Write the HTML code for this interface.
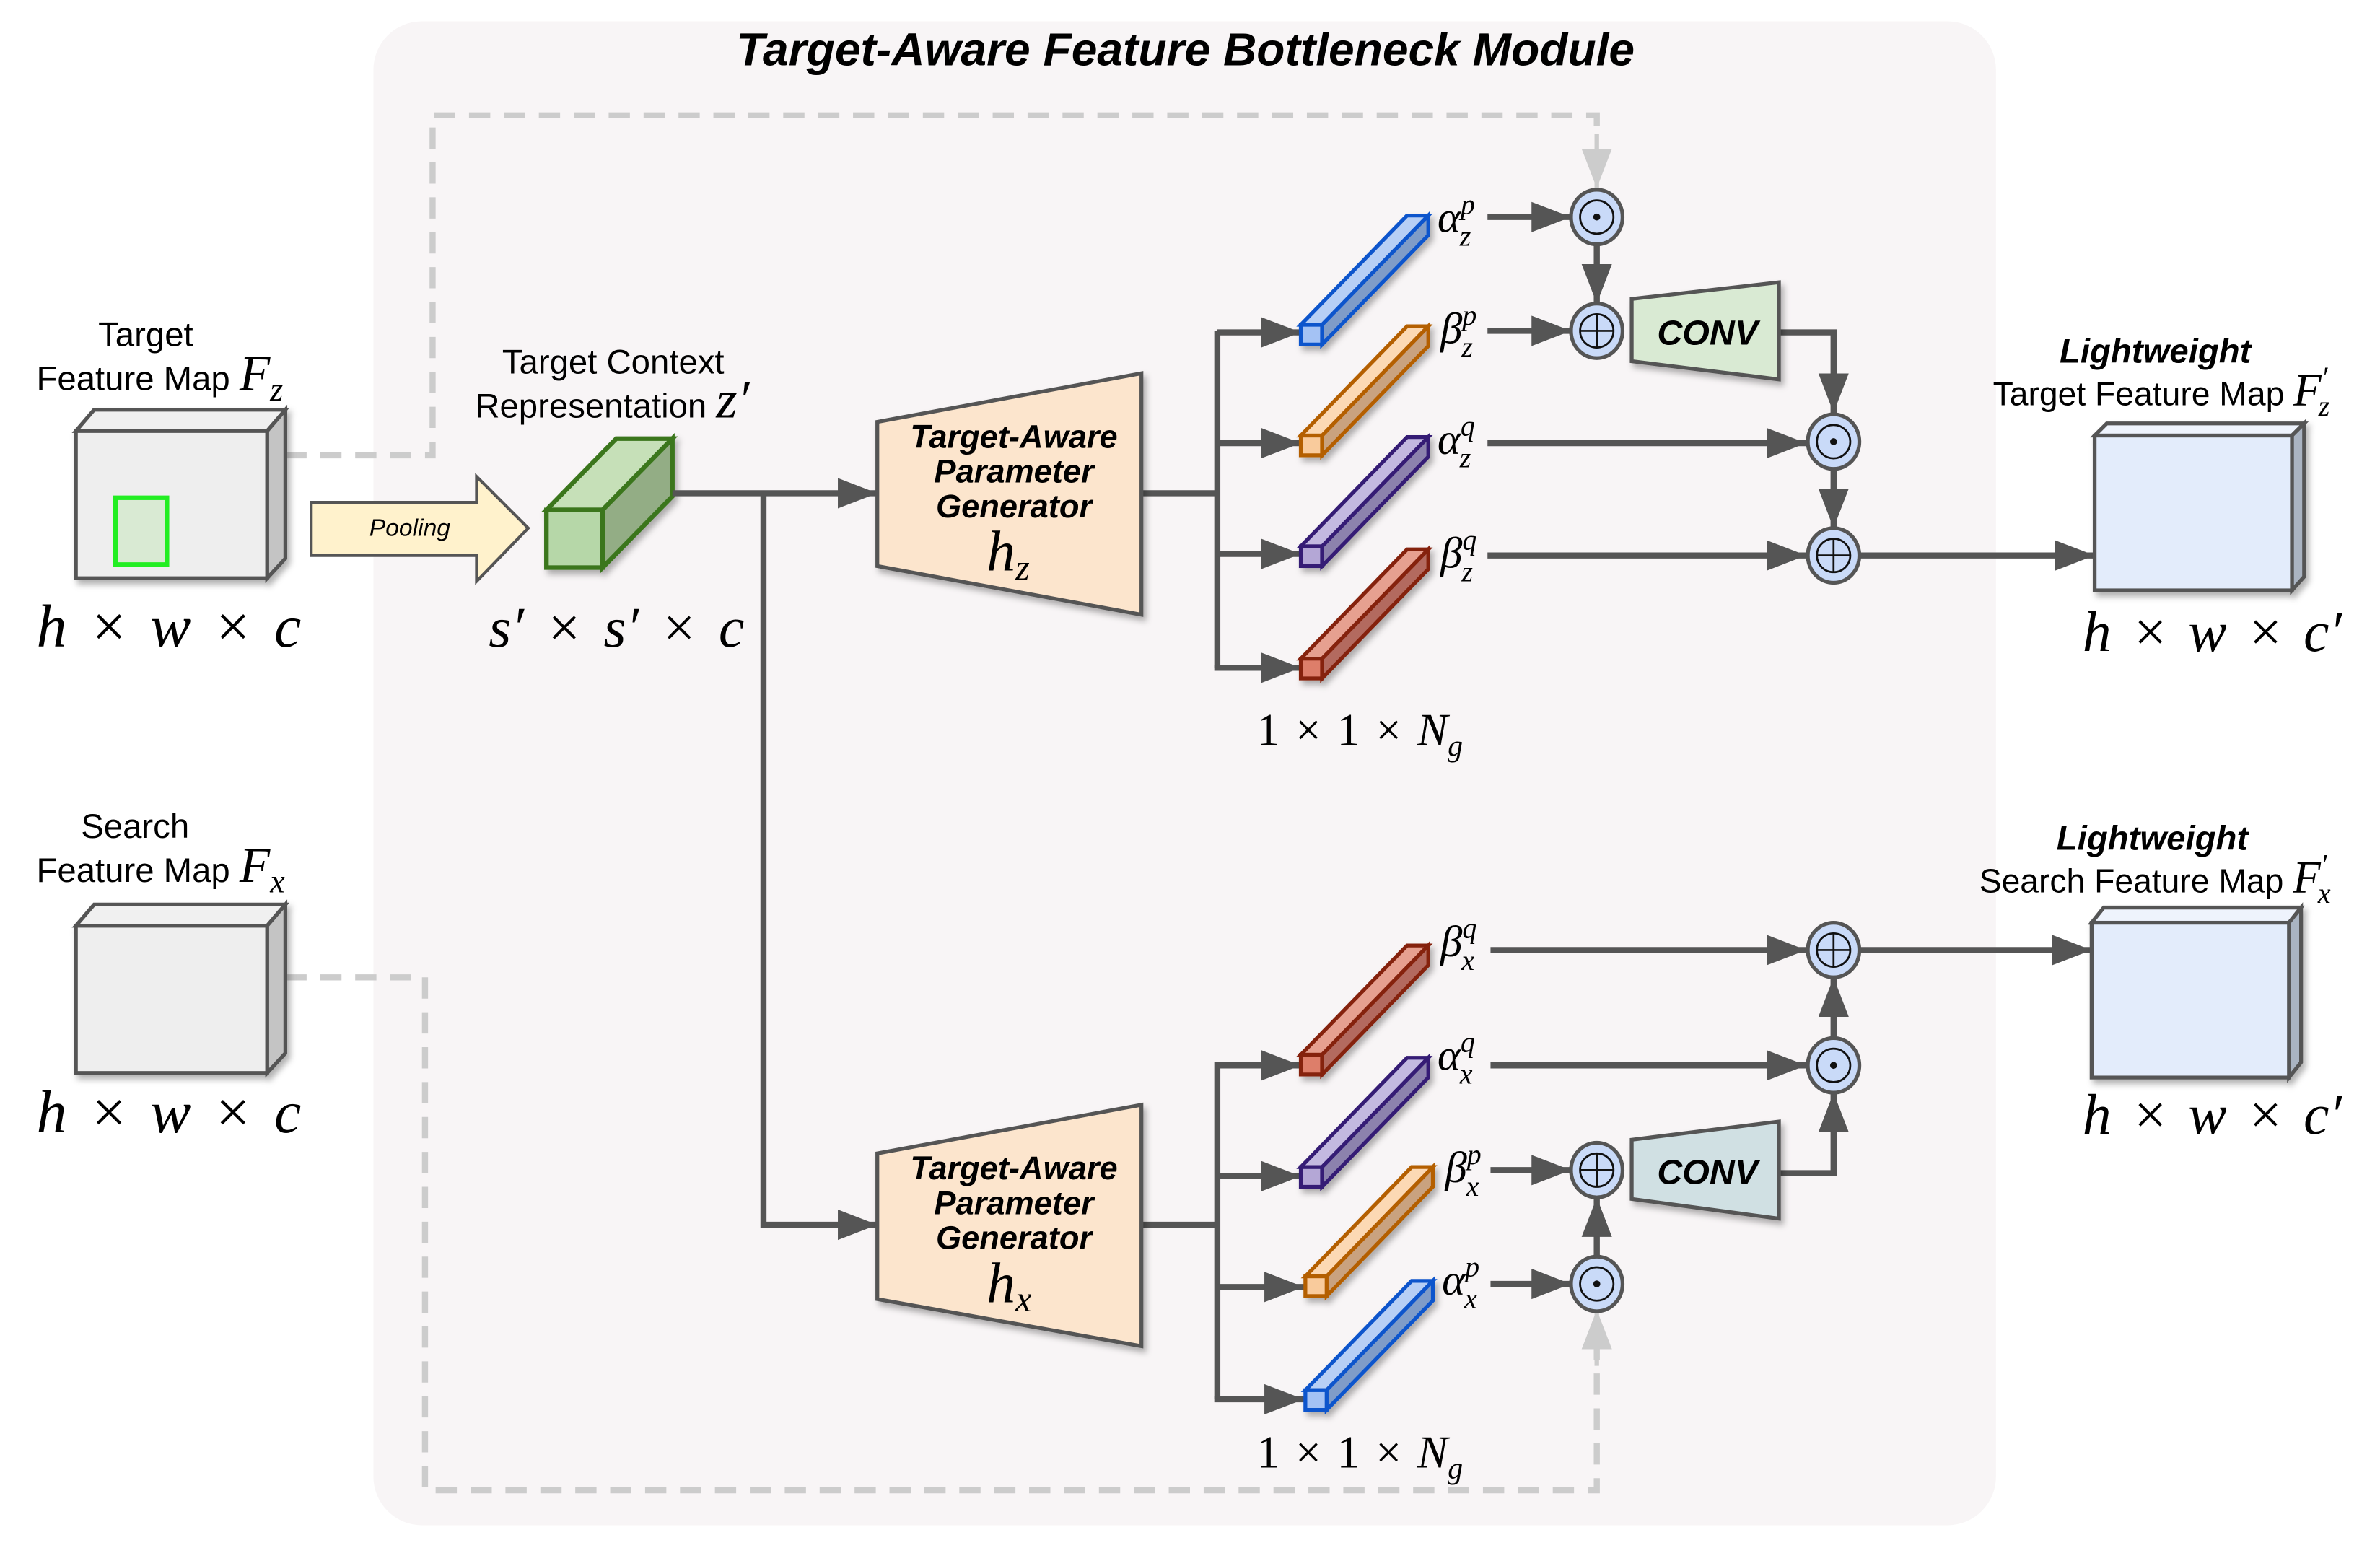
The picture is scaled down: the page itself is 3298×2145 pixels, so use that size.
<!DOCTYPE html>
<html><head><meta charset="utf-8"><style>
html,body{margin:0;padding:0;background:#fff;}
svg{display:block;}
.s{font-family:"Liberation Sans",sans-serif;}
.m{font-family:"Liberation Serif",serif;font-style:italic;}
.r{font-family:"Liberation Serif",serif;}
</style></head><body>
<svg width="3298" height="2145" viewBox="0 0 1568 1020" preserveAspectRatio="none" xmlns="http://www.w3.org/2000/svg">
<defs>
<marker id="a" markerUnits="userSpaceOnUse" markerWidth="28" markerHeight="22" refX="26" refY="10" orient="auto"><path d="M0,0 L26,10 L0,20 z" fill="#555"/></marker>
<marker id="g" markerUnits="userSpaceOnUse" markerWidth="28" markerHeight="22" refX="26" refY="10" orient="auto"><path d="M0,0 L26,10 L0,20 z" fill="#ccc"/></marker>
<filter id="sh" x="-20%" y="-20%" width="150%" height="150%"><feDropShadow dx="2" dy="3" stdDeviation="2" flood-color="#000" flood-opacity="0.3"/></filter>
</defs>
<rect width="1568" height="1020" fill="#fff"/>
<rect x="246" y="14" width="1069" height="991" rx="32" fill="#f8f5f6"/>
<text x="781" y="43" text-anchor="middle" class="s" font-size="30.5" font-weight="bold" font-style="italic">Target-Aware Feature Bottleneck Module</text>

<!-- dashed -->
<g fill="none" stroke="#ccc" stroke-width="4" stroke-dasharray="14,9">
<path d="M188,300 H285 V76 H1052 V88"/>
<path d="M188,644 H280 V982 H1052 V888"/>
</g>
<line x1="1052" y1="88" x2="1052" y2="124" stroke="#ccc" stroke-width="3" marker-end="url(#g)"/>
<line x1="1052" y1="900" x2="1052" y2="863" stroke="#ccc" stroke-width="3" marker-end="url(#g)"/>

<!-- target cube -->
<g stroke="#555" stroke-width="2.5" filter="url(#sh)">
<polygon points="50,284 62,270 188,270 176,284" fill="#f0f0f0"/>
<polygon points="176,284 188,270 188,368 176,381" fill="#c4c4c4"/>
<rect x="50" y="284" width="126" height="97" fill="#eee"/>
</g>
<rect x="76" y="328" width="34" height="44" fill="#d9ead3" stroke="#22ee22" stroke-width="3"/>
<text x="96" y="228" text-anchor="middle" class="s" font-size="22.5">Target</text>
<text x="24" y="257" class="s" font-size="22.5">Feature Map <tspan class="m" font-size="33">F</tspan><tspan class="m" font-size="22" dy="7">z</tspan></text>
<text x="24" y="426" class="m" font-size="40" word-spacing="4">h <tspan class="r">×</tspan> w <tspan class="r">×</tspan> c</text>

<!-- search cube -->
<g stroke="#555" stroke-width="2.5" filter="url(#sh)">
<polygon points="50,610 62,596 188,596 176,610" fill="#f0f0f0"/>
<polygon points="176,610 188,596 188,694 176,707" fill="#c4c4c4"/>
<rect x="50" y="610" width="126" height="97" fill="#eee"/>
</g>
<text x="89" y="552" text-anchor="middle" class="s" font-size="22.5">Search</text>
<text x="24" y="581" class="s" font-size="22.5">Feature Map <tspan class="m" font-size="33">F</tspan><tspan class="m" font-size="22" dy="7">x</tspan></text>
<text x="24" y="746" class="m" font-size="40" word-spacing="4">h <tspan class="r">×</tspan> w <tspan class="r">×</tspan> c</text>

<!-- pooling arrow -->
<polygon points="205,331 314,331 314,314 348,348 314,383 314,366 205,366" fill="#fff2cc" stroke="#555" stroke-width="2"/>
<text x="270" y="353" text-anchor="middle" class="s" font-size="16" font-style="italic">Pooling</text>

<!-- green cube -->
<g stroke="#3a761d" stroke-width="3" filter="url(#sh)">
<polygon points="360,336 406,289 443,289 397,336" fill="#c6e0b8"/>
<polygon points="397,336 443,289 443,327 397,374" fill="#93ad85"/>
<rect x="360" y="336" width="37" height="38" fill="#b6d7a8"/>
</g>
<text x="404" y="246" text-anchor="middle" class="s" font-size="22.5">Target Context</text>
<text x="313" y="275" class="s" font-size="22.5">Representation <tspan class="m" font-size="36">z′</tspan></text>
<text x="322" y="426" class="m" font-size="38" word-spacing="4">s′ <tspan class="r">×</tspan> s′ <tspan class="r">×</tspan> c</text>

<!-- main lines -->
<g stroke="#555" stroke-width="4" fill="none">
<line x1="443" y1="325" x2="578" y2="325" marker-end="url(#a)"/>
<path d="M503,325 V807 H578" marker-end="url(#a)"/>
<line x1="752" y1="325" x2="802" y2="325"/>
<line x1="802" y1="218" x2="802" y2="440"/>
<line x1="802" y1="219" x2="857" y2="219" marker-end="url(#a)"/>
<line x1="802" y1="292" x2="857" y2="292" marker-end="url(#a)"/>
<line x1="802" y1="365" x2="857" y2="365" marker-end="url(#a)"/>
<line x1="800" y1="440" x2="857" y2="440" marker-end="url(#a)"/>
<line x1="752" y1="807" x2="802" y2="807"/>
<line x1="802" y1="700" x2="802" y2="922"/>
<line x1="802" y1="702" x2="857" y2="702" marker-end="url(#a)"/>
<line x1="802" y1="775" x2="857" y2="775" marker-end="url(#a)"/>
<line x1="802" y1="848" x2="859" y2="848" marker-end="url(#a)"/>
<line x1="800" y1="922" x2="859" y2="922" marker-end="url(#a)"/>
</g>

<!-- generators -->
<g stroke="#555" stroke-width="2.5" fill="#fce5cd" filter="url(#sh)">
<polygon points="578,278 752,246 752,405 578,373"/>
<polygon points="578,760 752,728 752,887 578,856"/>
</g>
<g class="s" font-size="21.5" font-weight="bold" font-style="italic" text-anchor="middle">
<text x="668" y="295">Target-Aware</text><text x="668" y="318">Parameter</text><text x="668" y="341">Generator</text>
<text x="668" y="777">Target-Aware</text><text x="668" y="800">Parameter</text><text x="668" y="823">Generator</text>
</g>
<text x="650" y="376" class="m" font-size="38">h<tspan font-size="24" dy="6">z</tspan></text>
<text x="650" y="858" class="m" font-size="38">h<tspan font-size="24" dy="6">x</tspan></text>

<!-- bars -->
<g stroke-width="2.5" filter="url(#sh)">
<g stroke="#1155cc"><polygon points="857,214 927,142 941,142 871,214" fill="#b7cff5"/><polygon points="871,214 941,142 941,155 871,227" fill="#7f9cc8"/><rect x="857" y="214" width="14" height="13" fill="#a4c2f4"/></g>
<g stroke="#b45f06"><polygon points="857,287 927,215 941,215 871,287" fill="#fcd9b4"/><polygon points="871,287 941,215 941,228 871,300" fill="#c9a27f"/><rect x="857" y="287" width="14" height="13" fill="#f9cb9c"/></g>
<g stroke="#351c75"><polygon points="857,360 927,288 941,288 871,360" fill="#c3b9e0"/><polygon points="871,360 941,288 941,301 871,373" fill="#8c82ad"/><rect x="857" y="360" width="14" height="13" fill="#b4a7d6"/></g>
<g stroke="#85200c"><polygon points="857,434 927,362 941,362 871,434" fill="#e6a090"/><polygon points="871,434 941,362 941,375 871,447" fill="#b36a5e"/><rect x="857" y="434" width="14" height="13" fill="#dd7e6b"/></g>

<g stroke="#85200c"><polygon points="857,695 927,623 941,623 871,695" fill="#e6a090"/><polygon points="871,695 941,623 941,636 871,708" fill="#b36a5e"/><rect x="857" y="695" width="14" height="13" fill="#dd7e6b"/></g>
<g stroke="#351c75"><polygon points="857,769 927,697 941,697 871,769" fill="#c3b9e0"/><polygon points="871,769 941,697 941,710 871,782" fill="#8c82ad"/><rect x="857" y="769" width="14" height="13" fill="#b4a7d6"/></g>
<g stroke="#b45f06"><polygon points="860,841 930,769 944,769 874,841" fill="#fcd9b4"/><polygon points="874,841 944,769 944,782 874,854" fill="#c9a27f"/><rect x="860" y="841" width="14" height="13" fill="#f9cb9c"/></g>
<g stroke="#1155cc"><polygon points="860,916 930,844 944,844 874,916" fill="#b7cff5"/><polygon points="874,916 944,844 944,857 874,929" fill="#7f9cc8"/><rect x="860" y="916" width="14" height="13" fill="#a4c2f4"/></g>
</g>

<!-- greek labels -->
<g class="m" font-size="29">
<text x="947" y="153">α<tspan font-size="19" dy="-12">p</tspan><tspan font-size="19" dx="-10" dy="21">z</tspan></text>
<text x="949" y="226">β<tspan font-size="19" dy="-12">p</tspan><tspan font-size="19" dx="-10" dy="21">z</tspan></text>
<text x="947" y="299">α<tspan font-size="19" dy="-12">q</tspan><tspan font-size="19" dx="-10" dy="21">z</tspan></text>
<text x="949" y="374">β<tspan font-size="19" dy="-12">q</tspan><tspan font-size="19" dx="-10" dy="21">z</tspan></text>
<text x="949" y="630">β<tspan font-size="19" dy="-12">q</tspan><tspan font-size="19" dx="-10" dy="21">x</tspan></text>
<text x="947" y="705">α<tspan font-size="19" dy="-12">q</tspan><tspan font-size="19" dx="-10" dy="21">x</tspan></text>
<text x="952" y="779">β<tspan font-size="19" dy="-12">p</tspan><tspan font-size="19" dx="-10" dy="21">x</tspan></text>
<text x="950" y="853">α<tspan font-size="19" dy="-12">p</tspan><tspan font-size="19" dx="-10" dy="21">x</tspan></text>
</g>
<text x="828" y="491" class="r" font-size="30" word-spacing="3">1 × 1 × <tspan class="m">N</tspan><tspan class="m" font-size="20" dy="7">g</tspan></text>
<text x="828" y="967" class="r" font-size="30" word-spacing="3">1 × 1 × <tspan class="m">N</tspan><tspan class="m" font-size="20" dy="7">g</tspan></text>

<!-- arrows in fusion -->
<g stroke="#555" stroke-width="4" fill="none">
<line x1="980" y1="143" x2="1035" y2="143" marker-end="url(#a)"/>
<line x1="980" y1="218" x2="1035" y2="218" marker-end="url(#a)"/>
<line x1="1052" y1="161" x2="1052" y2="200" marker-end="url(#a)"/>
<path d="M1172,219 H1208 V272" marker-end="url(#a)"/>
<line x1="980" y1="292" x2="1190" y2="292" marker-end="url(#a)"/>
<line x1="1208" y1="309" x2="1208" y2="348" marker-end="url(#a)"/>
<line x1="980" y1="366" x2="1190" y2="366" marker-end="url(#a)"/>
<line x1="1226" y1="366" x2="1380" y2="366" marker-end="url(#a)"/>

<line x1="982" y1="626" x2="1190" y2="626" marker-end="url(#a)"/>
<line x1="1226" y1="626" x2="1378" y2="626" marker-end="url(#a)"/>
<line x1="982" y1="702" x2="1190" y2="702" marker-end="url(#a)"/>
<line x1="1208" y1="684" x2="1208" y2="644" marker-end="url(#a)"/>
<path d="M1172,773 H1208 V720" marker-end="url(#a)"/>
<line x1="982" y1="771" x2="1035" y2="771" marker-end="url(#a)"/>
<line x1="982" y1="846" x2="1035" y2="846" marker-end="url(#a)"/>
<line x1="1052" y1="828" x2="1052" y2="789" marker-end="url(#a)"/>
</g>

<!-- CONV -->
<g stroke="#555" stroke-width="2.5" filter="url(#sh)">
<polygon points="1075,197 1172,186 1172,250 1075,238" fill="#d9ead3"/>
<polygon points="1075,751 1172,739 1172,803 1075,790" fill="#d0e0e3"/>
</g>
<text x="1125" y="227" text-anchor="middle" class="s" font-size="23" font-weight="bold" font-style="italic">CONV</text>
<text x="1125" y="780" text-anchor="middle" class="s" font-size="23" font-weight="bold" font-style="italic">CONV</text>

<!-- operators -->
<ellipse cx="1052" cy="143" rx="17" ry="18" fill="#c9daf8" stroke="#555" stroke-width="2.5"/><circle cx="1052" cy="143" r="11" fill="none" stroke="#111" stroke-width="1.3"/><circle cx="1052" cy="143" r="2.3" fill="#111"/>
<ellipse cx="1052" cy="218" rx="17" ry="18" fill="#c9daf8" stroke="#555" stroke-width="2.5"/><circle cx="1052" cy="218" r="11" fill="none" stroke="#111" stroke-width="1.3"/><path d="M1041,218 H1063 M1052,207 V229" stroke="#111" stroke-width="1.3"/>
<ellipse cx="1208" cy="291" rx="17" ry="18" fill="#c9daf8" stroke="#555" stroke-width="2.5"/><circle cx="1208" cy="291" r="11" fill="none" stroke="#111" stroke-width="1.3"/><circle cx="1208" cy="291" r="2.3" fill="#111"/>
<ellipse cx="1208" cy="366" rx="17" ry="18" fill="#c9daf8" stroke="#555" stroke-width="2.5"/><circle cx="1208" cy="366" r="11" fill="none" stroke="#111" stroke-width="1.3"/><path d="M1197,366 H1219 M1208,355 V377" stroke="#111" stroke-width="1.3"/>

<ellipse cx="1208" cy="626" rx="17" ry="18" fill="#c9daf8" stroke="#555" stroke-width="2.5"/><circle cx="1208" cy="626" r="11" fill="none" stroke="#111" stroke-width="1.3"/><path d="M1197,626 H1219 M1208,615 V637" stroke="#111" stroke-width="1.3"/>
<ellipse cx="1208" cy="702" rx="17" ry="18" fill="#c9daf8" stroke="#555" stroke-width="2.5"/><circle cx="1208" cy="702" r="11" fill="none" stroke="#111" stroke-width="1.3"/><circle cx="1208" cy="702" r="2.3" fill="#111"/>
<ellipse cx="1052" cy="771" rx="17" ry="18" fill="#c9daf8" stroke="#555" stroke-width="2.5"/><circle cx="1052" cy="771" r="11" fill="none" stroke="#111" stroke-width="1.3"/><path d="M1041,771 H1063 M1052,760 V782" stroke="#111" stroke-width="1.3"/>
<ellipse cx="1052" cy="846" rx="17" ry="18" fill="#c9daf8" stroke="#555" stroke-width="2.5"/><circle cx="1052" cy="846" r="11" fill="none" stroke="#111" stroke-width="1.3"/><circle cx="1052" cy="846" r="2.3" fill="#111"/>

<!-- output cubes -->
<g stroke="#555" stroke-width="2.5" filter="url(#sh)">
<polygon points="1380,287 1388,279 1518,279 1510,287" fill="#eef3fc"/>
<polygon points="1510,287 1518,279 1518,380 1510,389" fill="#aab4c2"/>
<rect x="1380" y="287" width="130" height="102" fill="#e3ecfb"/>
<polygon points="1378,608 1386,598 1516,598 1508,608" fill="#eef3fc"/>
<polygon points="1508,608 1516,598 1516,700 1508,710" fill="#aab4c2"/>
<rect x="1378" y="608" width="130" height="102" fill="#e3ecfb"/>
</g>
<text x="1420" y="239" text-anchor="middle" class="s" font-size="22.5" font-weight="bold" font-style="italic">Lightweight</text>
<text x="1313" y="267" class="s" font-size="22">Target Feature Map <tspan class="m" font-size="30">F</tspan><tspan class="m" font-size="19" dy="-12">′</tspan><tspan class="m" font-size="19" dx="-6" dy="19">z</tspan></text>
<text x="1372" y="429" class="m" font-size="38" word-spacing="3">h <tspan class="r">×</tspan> w <tspan class="r">×</tspan> c′</text>
<text x="1418" y="560" text-anchor="middle" class="s" font-size="22.5" font-weight="bold" font-style="italic">Lightweight</text>
<text x="1304" y="588" class="s" font-size="22">Search Feature Map <tspan class="m" font-size="30">F</tspan><tspan class="m" font-size="19" dy="-12">′</tspan><tspan class="m" font-size="19" dx="-6" dy="19">x</tspan></text>
<text x="1372" y="747" class="m" font-size="38" word-spacing="3">h <tspan class="r">×</tspan> w <tspan class="r">×</tspan> c′</text>
</svg>
</body></html>
